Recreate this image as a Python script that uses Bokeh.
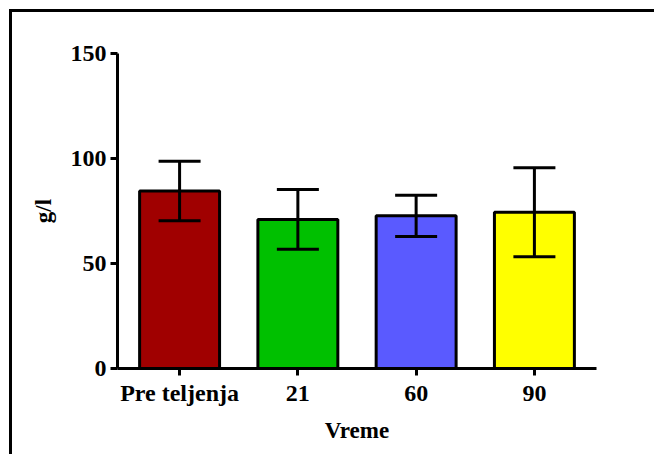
from bokeh.plotting import figure
from bokeh.models import ColumnDataSource, FixedTicker, Whisker, TeeHead, FactorRange, Range1d
from bokeh.embed import file_html
from bokeh.resources import INLINE

# ---- data ----
categories = ["Pre teljenja", "21", "60", "90"]
means = [84.5, 71.0, 72.7, 74.4]
sds = [14.2, 14.2, 9.8, 21.2]
colors = ["#A00000", "#00C000", "#5A5AFF", "#FFFF00"]
y_ticks = [0, 50, 100, 150]
x_title = "Vreme"
y_title = "g/l"

upper = [m + s for m, s in zip(means, sds)]
lower = [m - s for m, s in zip(means, sds)]
src = ColumnDataSource(dict(x=categories, top=means, upper=upper, lower=lower, color=colors))

FONT = "Liberation Serif"

p = figure(
    width=645, height=445,
    x_range=FactorRange(*categories, range_padding=0.025, range_padding_units="absolute"),
    y_range=Range1d(0, 150),
    output_backend="svg", toolbar_location=None,
    min_border_left=105, min_border_right=61, min_border_top=41, min_border_bottom=89,
)
p.styles = {"margin-left": "9px", "margin-top": "9px",
            "border-left": "3px solid black", "border-top": "3px solid black"}
p.outline_line_color = None
p.xgrid.grid_line_color = None
p.ygrid.grid_line_color = None
p.background_fill_color = "white"
p.border_fill_color = "white"

p.vbar(x="x", top="top", width=0.676, bottom=0, source=src,
       fill_color="color", line_color="black", line_width=3)

w = Whisker(base="x", upper="upper", lower="lower", source=src, line_width=3, line_color="black",
            upper_head=TeeHead(size=42, line_width=3, line_color="black"),
            lower_head=TeeHead(size=42, line_width=3, line_color="black"),
            level="overlay")
p.add_layout(w)

for ax in (p.xaxis[0], p.yaxis[0]):
    ax.axis_line_width = 3
    ax.axis_line_color = "black"
    ax.major_tick_line_width = 3
    ax.major_tick_line_color = "black"
    ax.major_tick_out = 7
    ax.major_tick_in = 0
    ax.minor_tick_line_color = None
    ax.major_label_text_font = FONT
    ax.major_label_text_font_style = "bold"
    ax.major_label_text_font_size = "24px"
    ax.major_label_text_color = "black"
    ax.axis_label_text_font = FONT
    ax.axis_label_text_font_style = "bold"
    ax.axis_label_text_font_size = "23px"
    ax.axis_label_text_color = "black"

p.yaxis.ticker = FixedTicker(ticks=y_ticks)
p.yaxis.major_label_standoff = 4
p.yaxis.axis_label = y_title
p.yaxis.axis_label_standoff = 12
p.xaxis.axis_label = x_title
p.xaxis.major_label_standoff = 4
p.xaxis.axis_label_standoff = 9
p.xaxis.major_label_orientation = "horizontal"

open("out.html", "w").write(file_html(p, INLINE))
